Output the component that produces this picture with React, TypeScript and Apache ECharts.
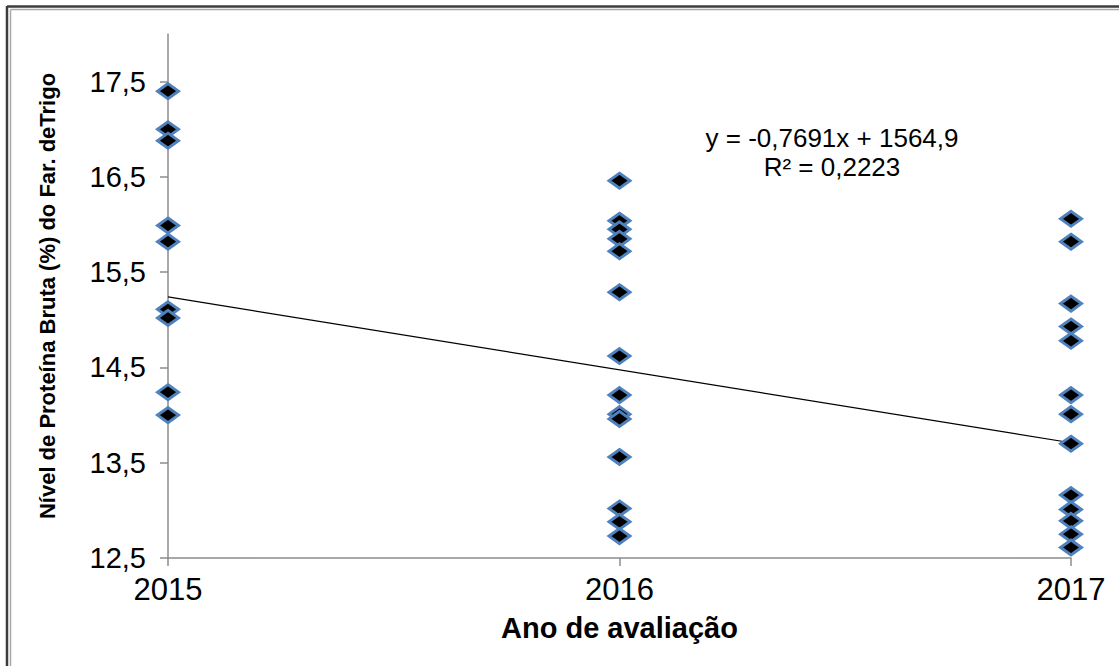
import React, { useEffect, useRef } from "react";
import * as echarts from "echarts";

const years = [2015, 2016, 2017];
const values2015 = [17.4, 17.0, 16.88, 15.99, 15.82, 15.11, 15.02, 14.24, 14.0];
const values2016 = [16.46, 16.04, 15.95, 15.85, 15.72, 15.29, 14.62, 14.21, 14.01, 13.96, 13.56, 13.02, 12.88, 12.73];
const values2017 = [16.06, 15.82, 15.17, 14.93, 14.78, 14.21, 14.01, 13.7, 13.16, 13.01, 12.89, 12.75, 12.61];
const trendYears = [2015, 2017];
const trendValues = [15.24, 13.71];
const yTicks = [12.5, 13.5, 14.5, 15.5, 16.5, 17.5];
const equationText = "y = -0,7691x + 1564,9";
const r2Text = "R² = 0,2223";
const yTitle = "Nível de Proteína Bruta (%) do Far. deTrigo";
const xTitle = "Ano de avaliação";

export default function App() {
  const ref = useRef<HTMLDivElement>(null);
  useEffect(() => {
    if (!ref.current) return;
    const chart = echarts.init(ref.current, undefined, { renderer: "svg" });
    const groups = [values2015, values2016, values2017];
    const scatterData: number[][] = [];
    groups.forEach((arr, i) => arr.forEach((v) => scatterData.push([years[i], v])));
    const font = "Liberation Sans, Arial, sans-serif";
    chart.setOption({
      animation: false,
      backgroundColor: "#ffffff",
      grid: { left: 168, right: 48, top: 34, bottom: 108, containLabel: false },
      xAxis: {
        type: "value",
        min: 2015,
        max: 2017,
        interval: 1,
        name: xTitle,
        nameLocation: "middle",
        nameGap: 55,
        nameTextStyle: { fontFamily: font, fontSize: 29, fontWeight: "bold", color: "#000" },
        splitLine: { show: false },
        axisLine: { onZero: false, lineStyle: { color: "#8c8c8c", width: 1.5 } },
        axisTick: { length: 8, lineStyle: { color: "#8c8c8c", width: 1.5 } },
        axisLabel: {
          fontFamily: font,
          fontSize: 31,
          color: "#000",
          margin: 16,
          formatter: (v: number) => String(v),
        },
      },
      yAxis: {
        type: "value",
        min: 12.5,
        max: 18,
        interval: 0.5,
        name: yTitle,
        nameLocation: "middle",
        nameGap: 110,
        nameTextStyle: { fontFamily: font, fontSize: 22, fontWeight: "bold", color: "#000" },
        splitLine: { show: false },
        axisLine: { show: true, onZero: false, lineStyle: { color: "#8c8c8c", width: 1.5 } },
        axisTick: { show: true, length: 8, customValues: yTicks, lineStyle: { color: "#8c8c8c", width: 1.5 } },
        axisLabel: {
          fontFamily: font,
          fontSize: 29,
          color: "#000",
          margin: 22,
          customValues: yTicks,
          formatter: (v: number) => v.toFixed(1).replace(".", ","),
        },
      },
      series: [
        {
          type: "line",
          data: trendYears.map((y, i) => [y, trendValues[i]]),
          symbol: "none",
          lineStyle: { color: "#000", width: 1.2 },
          z: 1,
        },
        {
          type: "scatter",
          data: scatterData,
          symbol: "diamond",
          symbolSize: [21, 15],
          itemStyle: { color: "#000", borderColor: "#4f81bd", borderWidth: 3, opacity: 1 },
          z: 2,
        },
      ],
      graphic: [
        { type: "line", shape: { x1: 7, y1: 6, x2: 7, y2: 666 }, style: { stroke: "#3c3c3c", lineWidth: 2.5 } },
        { type: "line", shape: { x1: 7, y1: 6.5, x2: 1119, y2: 6.5 }, style: { stroke: "#3c3c3c", lineWidth: 2.5 } },
        { type: "line", shape: { x1: 10.5, y1: 9.5, x2: 10.5, y2: 666 }, style: { stroke: "#a8a8a8", lineWidth: 1.5 } },
        { type: "line", shape: { x1: 10.5, y1: 9.5, x2: 1119, y2: 9.5 }, style: { stroke: "#a8a8a8", lineWidth: 1.5 } },
        {
          type: "text",
          x: 832,
          y: 138,
          style: { text: equationText, fontFamily: font, fontSize: 26, fill: "#000", align: "center", verticalAlign: "middle" },
        },
        {
          type: "text",
          x: 832,
          y: 167,
          style: { text: r2Text, fontFamily: font, fontSize: 26, fill: "#000", align: "center", verticalAlign: "middle" },
        },
      ],
    });
    return () => chart.dispose();
  }, []);
  return <div ref={ref} style={{ position: "fixed", left: 0, top: 0, width: 1119, height: 666 }} />;
}
